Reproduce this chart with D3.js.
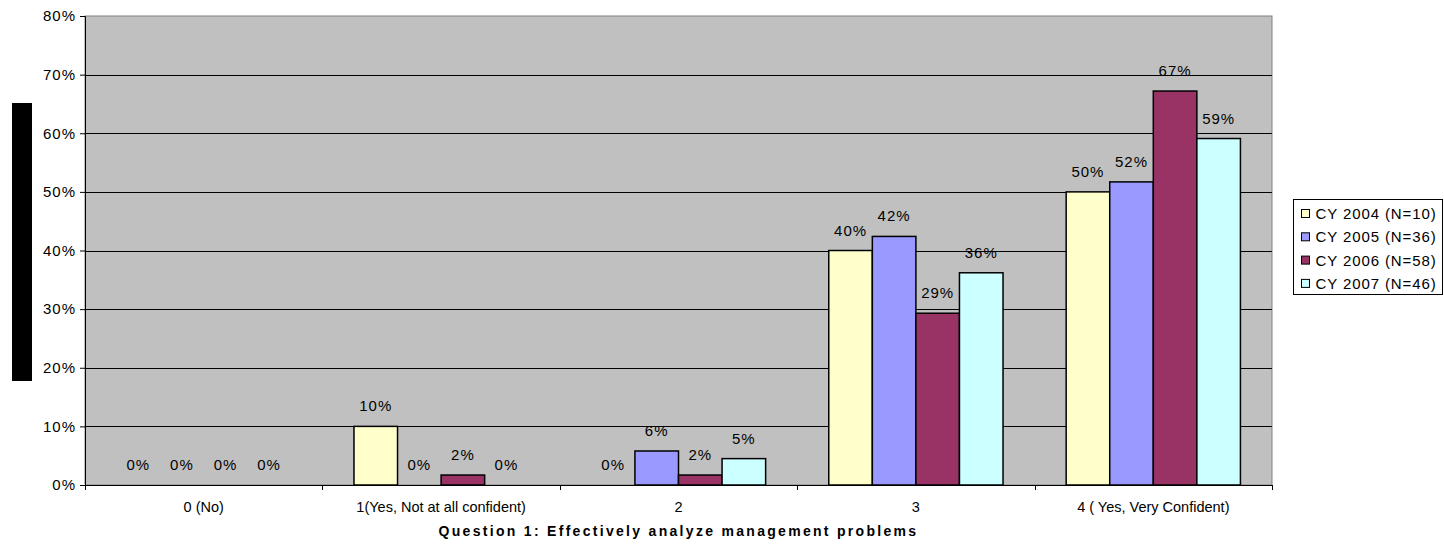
<!DOCTYPE html>
<html>
<head>
<meta charset="utf-8">
<script src="https://cdn.jsdelivr.net/npm/d3@7"></script>
<style>
  body { margin: 0; background: #fff; }
  svg { display: block; font-family: "Liberation Sans", Arial, sans-serif; }
</style>
</head>
<body>
<div id="chart"></div>
<script>
const categories = ['0 (No)', '1(Yes, Not at all confident)', '2', '3', '4 ( Yes, Very Confident)'];
const seriesNames = ['CY 2004 (N=10)', 'CY 2005 (N=36)', 'CY 2006 (N=58)', 'CY 2007 (N=46)'];
const cy2004 = [0, 10, 0, 40, 50];
const cy2005 = [0, 0, 5.8, 42.4, 51.7];
const cy2006 = [0, 1.7, 1.7, 29.3, 67.2];
const cy2007 = [0, 0, 4.5, 36.2, 59.1];
const yTicks = [0, 10, 20, 30, 40, 50, 60, 70, 80];
const xTitle = 'Question 1: Effectively analyze management problems';

const config = {
  'width': 1444,
  'height': 546,
  'margins': { 'top': 16, 'right': 172, 'bottom': 61, 'left': 85 }
};
const colors = ['#FFFFCC', '#9999FF', '#993366', '#CCFFFF'];
const seriesValues = [cy2004, cy2005, cy2006, cy2007];

const chartData = categories.map((c, i) => ({
  category: c,
  values: seriesNames.map((s, j) => ({ series: s, idx: j, value: seriesValues[j][i] }))
}));

const plotW = config.width - config.margins.left - config.margins.right;
const plotH = config.height - config.margins.top - config.margins.bottom;

const svg = d3.select('#chart').append('svg')
  .attr('width', config.width)
  .attr('height', config.height);

const x0 = d3.scaleBand()
  .domain(categories)
  .range([0, plotW])
  .paddingInner(0.266)
  .paddingOuter(0.133);

const x1 = d3.scaleBand()
  .domain(seriesNames)
  .range([0, x0.bandwidth()]);

const y = d3.scaleLinear()
  .domain([0, 80])
  .range([plotH, 0]);

const g = svg.append('g')
  .attr('transform', `translate(${config.margins.left}, ${config.margins.top})`);

// plot background
g.append('rect')
  .attr('width', plotW)
  .attr('height', plotH)
  .attr('fill', '#C0C0C0')
  .attr('stroke', '#808080')
  .attr('stroke-width', 1);

// gridlines
g.selectAll('line.grid')
  .data(yTicks.filter(d => d > 0 && d < 80))
  .join('line')
    .attr('class', 'grid')
    .attr('x1', 0)
    .attr('x2', plotW)
    .attr('y1', d => Math.round(y(d)) + 0.5)
    .attr('y2', d => Math.round(y(d)) + 0.5)
    .attr('stroke', '#000')
    .attr('stroke-width', 1);

// y axis
const yAxis = d3.axisLeft(y)
  .tickValues(yTicks)
  .tickSize(5)
  .tickPadding(4)
  .tickFormat(d => d + '%');

g.append('g')
  .attr('class', 'axis y')
  .call(yAxis)
  .call(a => a.select('.domain').attr('stroke', '#000'))
  .call(a => a.selectAll('.tick line').attr('stroke', '#000'))
  .call(a => a.selectAll('.tick text')
    .attr('font-size', 15)
    .attr('letter-spacing', 1)
    .attr('fill', '#000')
    .attr('font-family', '"Liberation Sans", Arial, sans-serif'));

// x axis
const xAxis = d3.axisBottom(x0)
  .tickSize(0)
  .tickPadding(17)
  .tickSizeOuter(0);

const xa = g.append('g')
  .attr('class', 'axis x')
  .attr('transform', `translate(0, ${plotH})`)
  .call(xAxis);
xa.select('.domain').attr('stroke', '#000');
xa.selectAll('.tick text')
  .attr('font-size', 14.5)
  .attr('fill', '#000')
  .attr('font-family', '"Liberation Sans", Arial, sans-serif');

// category boundary ticks
xa.selectAll('line.sep')
  .data(d3.range(categories.length + 1))
  .join('line')
    .attr('class', 'sep')
    .attr('x1', i => Math.round(i * x0.step()) + 0.5)
    .attr('x2', i => Math.round(i * x0.step()) + 0.5)
    .attr('y1', 0)
    .attr('y2', 5)
    .attr('stroke', '#000');

// bars
const group = g.selectAll('g.cat')
  .data(chartData)
  .join('g')
    .attr('class', 'cat')
    .attr('transform', d => `translate(${x0(d.category)}, 0)`);

group.selectAll('rect')
  .data(d => d.values.filter(v => v.value > 0))
  .join('rect')
    .attr('x', d => x1(d.series))
    .attr('y', d => y(d.value))
    .attr('width', x1.bandwidth())
    .attr('height', d => plotH - y(d.value))
    .attr('fill', d => colors[d.idx])
    .attr('stroke', '#000')
    .attr('stroke-width', 1.5);

group.selectAll('text')
  .data(d => d.values)
  .join('text')
    .attr('x', d => x1(d.series) + x1.bandwidth() / 2)
    .attr('y', d => y(d.value) - 15)
    .attr('text-anchor', 'middle')
    .attr('font-size', 15)
    .attr('letter-spacing', 1)
    .attr('fill', '#000')
    .text(d => Math.round(d.value) + '%');

// x title
svg.append('text')
  .attr('x', config.margins.left + plotW / 2)
  .attr('y', 536)
  .attr('text-anchor', 'middle')
  .attr('font-size', 14)
  .attr('font-weight', 'bold')
  .attr('letter-spacing', 2.3)
  .text(xTitle);

// y title (rendered as a solid black block in the source)
svg.append('rect')
  .attr('x', 12)
  .attr('y', 103)
  .attr('width', 20)
  .attr('height', 278)
  .attr('fill', '#000');

// legend
const legend = svg.append('g')
  .attr('transform', 'translate(1293.5, 199.5)');

legend.append('rect')
  .attr('width', 149)
  .attr('height', 95)
  .attr('fill', '#fff')
  .attr('stroke', '#000');

const item = legend.selectAll('g.item')
  .data(seriesNames)
  .join('g')
    .attr('class', 'item')
    .attr('transform', (d, i) => `translate(8, ${14 + i * 23.3})`);

item.append('rect')
  .attr('x', 0)
  .attr('y', -4)
  .attr('width', 8)
  .attr('height', 8)
  .attr('fill', (d, i) => colors[i])
  .attr('stroke', '#000');

item.append('text')
  .attr('x', 14)
  .attr('y', 5.5)
  .attr('font-size', 15)
  .attr('letter-spacing', 0.9)
  .attr('fill', '#000')
  .text(d => d);
</script>
</body>
</html>
